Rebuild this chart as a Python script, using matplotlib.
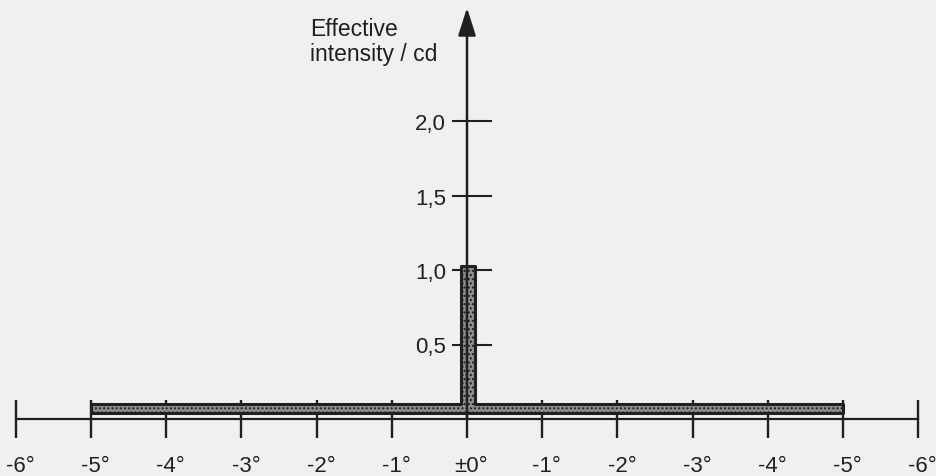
import matplotlib
matplotlib.use("Agg")
import matplotlib.pyplot as plt
from matplotlib.transforms import ScaledTranslation

plt.rcParams["font.family"] = ["Liberation Sans", "DejaVu Sans"]

# Datos del diagrama: intensidad efectiva frente al ángulo
angulos_ticks = [-6, -5, -4, -3, -2, -1, 0, 1, 2, 3, 4, 5, 6]
angulos_etiquetas = ["-6°", "-5°", "-4°", "-3°", "-2°", "-1°", "±0°",
                     "-1°", "-2°", "-3°", "-4°", "-5°", "-6°"]
intensidad_ticks = [0.5, 1.0, 1.5, 2.0]
intensidad_etiquetas = ["0,5", "1,0", "1,5", "2,0"]

# Perfil escalonado: franja baja de -5° a +5° y pico estrecho en 0°
perfil_angulo = [-5, -0.08, 0.11, 5]
perfil_intensidad = [0.10, 1.03, 0.10, 0.10]
perfil_base = 0.04
eje_y_max = 2.76

tinta = "#202020"
papel = "#f0f0f0"

fig = plt.figure(figsize=(9.36, 4.77), dpi=100, facecolor=papel)
ax = fig.add_axes([0, 0, 1, 1], facecolor=papel)
ax.set_xlim(-467 / 75.2, (936 - 467) / 75.2)
ax.set_ylim(-(477 - 420) / 149, 420 / 149)

ax.fill_between(perfil_angulo, perfil_base, perfil_intensidad, step="post",
                facecolor="#8e8e8e", edgecolor=tinta, hatch="....",
                linewidth=2.2, zorder=3)

# Ejes cruzados en el origen
for lado in ("top", "right"):
    ax.spines[lado].set_visible(False)
ax.spines["left"].set_position(("data", 0))
ax.spines["left"].set_color("none")
ax.spines["bottom"].set_position(("data", 0))
ax.spines["bottom"].set_bounds(-6, 6)
ax.spines["bottom"].set_linewidth(1.6)
ax.spines["bottom"].set_color(tinta)

ax.annotate("", xy=(0, eje_y_max), xytext=(0, 0),
            arrowprops=dict(arrowstyle="-|>,head_length=0.85,head_width=0.27",
                            mutation_scale=20, lw=1.8, color=tinta,
                            shrinkA=0, shrinkB=0),
            zorder=4)

ax.set_xticks(angulos_ticks, labels=angulos_etiquetas)
ax.tick_params(axis="x", direction="inout", length=27.4, width=1.7,
               pad=12, labelsize=16, color=tinta, labelcolor=tinta)
desplazamiento = ScaledTranslation(0.045, 0, fig.dpi_scale_trans)
for etiqueta in ax.get_xticklabels():
    etiqueta.set_transform(etiqueta.get_transform() + desplazamiento)

ax.set_yticks(intensidad_ticks, labels=intensidad_etiquetas)
ax.set_yticks(intensidad_ticks, minor=True)
ax.yaxis.remove_overlapping_locs = False
ax.tick_params(axis="y", which="major", direction="in", length=18, width=1.5,
               pad=15, labelsize=16, color=tinta, labelcolor=tinta)
ax.tick_params(axis="y", which="minor", direction="out", length=10.8,
               width=1.5, color=tinta)

# va="baseline" con texto de dos líneas apoya la última línea
ax.text(-2.09, 2.41, "Effective\nintensity / cd", ha="left", va="baseline",
        fontsize=16.5, color=tinta, linespacing=1.12)

fig.savefig("out.png", dpi=100, facecolor=papel)
